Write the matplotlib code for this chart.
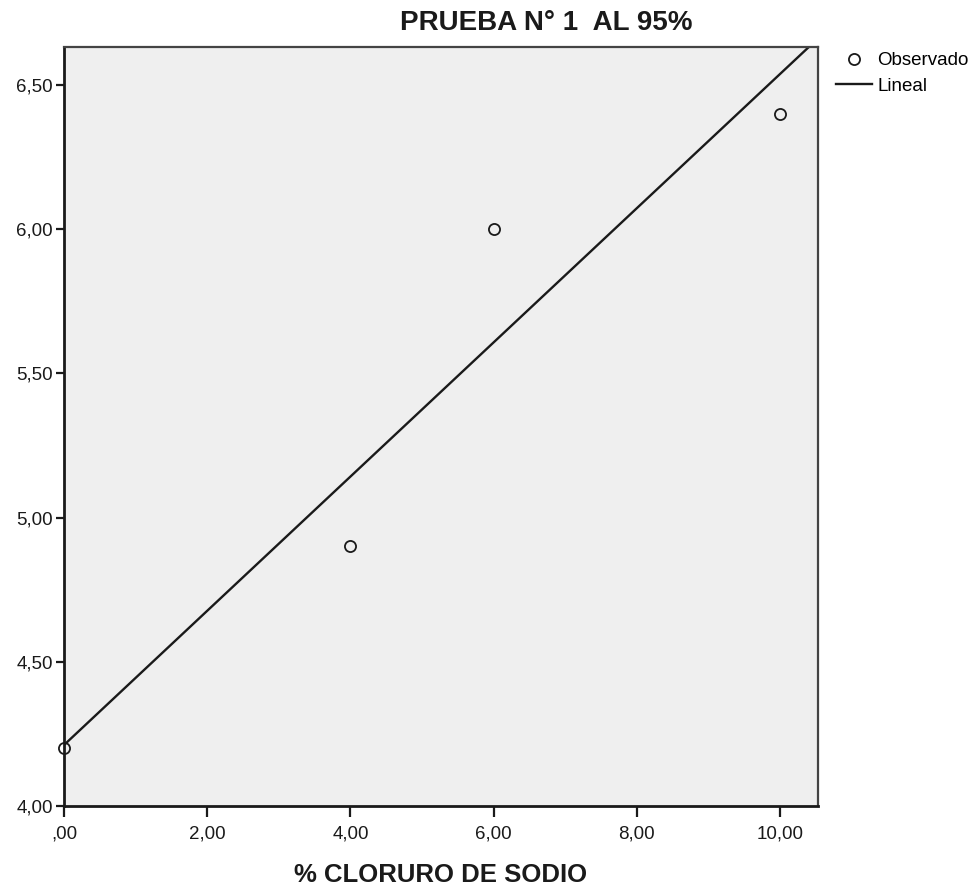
import numpy as np
import matplotlib
matplotlib.use("Agg")
import matplotlib.pyplot as plt
from matplotlib.ticker import FuncFormatter

plt.rcParams['font.family'] = ['Liberation Sans', 'DejaVu Sans']

# Data
x_obs = [0, 4, 6, 10]
y_obs = [4.2, 4.9, 6.0, 6.4]
x_ticks = [0, 2, 4, 6, 8, 10]
y_ticks = [4.0, 4.5, 5.0, 5.5, 6.0, 6.5]
title = "PRUEBA N° 1  AL 95%"
xlabel = "% CLORURO DE SODIO"

fig = plt.figure(figsize=(9.76, 8.88), dpi=100)
ax = fig.add_axes([64/976, 1-806/888, (818-64)/976, (806-47)/888])
ax.set_facecolor('#efefef')

slope, intercept = np.polyfit(x_obs, y_obs, 1)
xl = np.linspace(0, 10.6, 50)
ax.plot(xl, intercept + slope*xl, color='#1a1a1a', lw=1.7, label='Lineal', zorder=2)
ax.plot(x_obs, y_obs, 'o', mfc='none', mec='#1a1a1a', mew=1.3, ms=8,
        label='Observado', zorder=3, clip_on=False)

ax.set_xlim(0, 10.53)
ax.set_ylim(4.0, 6.632)
ax.set_xticks(x_ticks)
ax.set_yticks(y_ticks)

def fmt(v, pos):
    s = f"{v:.2f}".replace('.', ',')
    if s.startswith('0'):
        s = s[1:]
    return s

ax.xaxis.set_major_formatter(FuncFormatter(fmt))
ax.yaxis.set_major_formatter(FuncFormatter(fmt))
ax.tick_params(axis='both', labelsize=13.5, color='#1a1a1a', labelcolor='#1a1a1a', width=1.6)
ax.tick_params(axis='x', length=8, pad=6)
ax.tick_params(axis='y', length=6, pad=2)

for side in ['left', 'bottom']:
    ax.spines[side].set_linewidth(2)
    ax.spines[side].set_color('#1a1a1a')
for side in ['top', 'right']:
    ax.spines[side].set_linewidth(1.6)
    ax.spines[side].set_color('#444444')

fig.text(441/976, 1-875/888, xlabel, fontsize=18.5, fontweight='bold',
         ha='center', va='center', color='#1a1a1a')
fig.text(546/976, 1-23/888, title, fontsize=20, fontweight='bold',
         ha='center', va='center', color='#1a1a1a')

handles, labels = ax.get_legend_handles_labels()
leg = fig.legend([handles[1], handles[0]], [labels[1], labels[0]],
                 loc='upper left', bbox_to_anchor=(836/976, 1-52/888),
                 frameon=False, fontsize=13.5, handlelength=1.9, handletextpad=0.3,
                 labelspacing=0.45, borderaxespad=0, borderpad=0)

fig.savefig('out.png', dpi=100)
